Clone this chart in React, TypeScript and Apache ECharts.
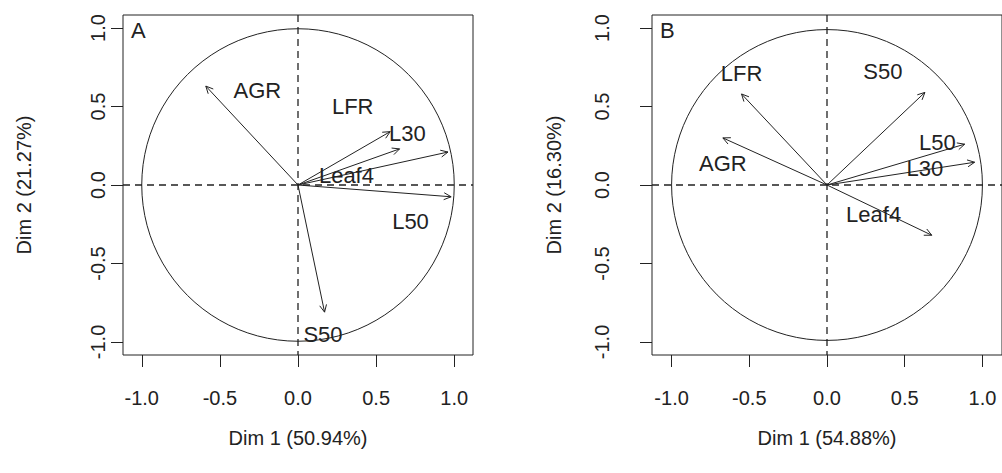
import React, { useEffect, useRef } from 'react';
import * as echarts from 'echarts';

// Panel A (variables factor map)
const varNamesA = ['AGR', 'LFR', 'L30', 'Leaf4', 'L50', 'S50'];
const arrowXA = [-0.59, 0.65, 0.59, 0.96, 0.98, 0.17];
const arrowYA = [0.63, 0.23, 0.34, 0.21, -0.075, -0.81];
const labelXA = [-0.26, 0.35, 0.70, 0.31, 0.72, 0.16];
const labelYA = [0.6, 0.5, 0.33, 0.06, -0.23, -0.955];

// Panel B
const varNamesB = ['AGR', 'LFR', 'S50', 'L50', 'L30', 'Leaf4'];
const arrowXB = [-0.67, -0.55, 0.63, 0.886, 0.95, 0.674];
const arrowYB = [0.3, 0.58, 0.59, 0.26, 0.145, -0.32];
const labelXB = [-0.67, -0.55, 0.36, 0.71, 0.63, 0.3];
const labelYB = [0.14, 0.71, 0.72, 0.27, 0.106, -0.19];

const tickValues = [-1, -0.5, 0, 0.5, 1];
const panelLetters = ['A', 'B'];
const xTitles = ['Dim 1 (50.94%)', 'Dim 1 (54.88%)'];
const yTitles = ['Dim 2 (21.27%)', 'Dim 2 (16.30%)'];
const circleRadius = [1];

const FONT = 'Liberation Sans, Arial, sans-serif';
const INK = '#222';

function buildOption() {
  const grids = [
    { left: 123, top: 15, width: 350, height: 340 },
    { left: 652, top: 15, width: 352, height: 340 },
  ];
  const xr = [1.12, 1.126];
  const yr = 1.083;

  const xAxis: any[] = [];
  const yAxis: any[] = [];
  const series: any[] = [];

  const panels = [
    { names: varNamesA, ax: arrowXA, ay: arrowYA, lx: labelXA, ly: labelYA },
    { names: varNamesB, ax: arrowXB, ay: arrowYB, lx: labelXB, ly: labelYB },
  ];

  panels.forEach((p, i) => {
    xAxis.push({
      type: 'value',
      gridIndex: i,
      min: -xr[i],
      max: xr[i],
      name: xTitles[i],
      nameLocation: 'middle',
      nameGap: 73,
      nameTextStyle: { fontFamily: FONT, fontSize: 20, color: INK },
      axisLine: { show: false, onZero: false },
      splitLine: { show: false },
      axisTick: {
        show: true,
        customValues: tickValues,
        length: 12,
        lineStyle: { color: INK, width: 1 },
      },
      axisLabel: {
        customValues: tickValues,
        margin: 33,
        fontFamily: FONT,
        fontSize: 20,
        color: INK,
        formatter: (v: number) => v.toFixed(1),
      },
    });
    yAxis.push({
      type: 'value',
      gridIndex: i,
      min: -yr,
      max: yr,
      name: yTitles[i],
      nameLocation: 'middle',
      nameGap: i === 0 ? 89 : 88,
      nameTextStyle: { fontFamily: FONT, fontSize: 20, color: INK },
      axisLine: { show: false, onZero: false },
      splitLine: { show: false },
      axisTick: {
        show: true,
        customValues: tickValues,
        length: 12,
        lineStyle: { color: INK, width: 1 },
      },
      axisLabel: {
        customValues: tickValues,
        rotate: 90,
        margin: i === 0 ? 15 : 40,
        fontFamily: FONT,
        fontSize: 20,
        color: INK,
        formatter: (v: number) => v.toFixed(1),
      },
    });

    // unit circle + dashed reference axes
    series.push({
      type: 'custom',
      xAxisIndex: i,
      yAxisIndex: i,
      silent: true,
      data: circleRadius.map((r) => [0, 0, r]),
      renderItem: (params: any, api: any) => {
        const c = api.coord([api.value(0), api.value(1)]);
        const r = api.size([api.value(2), api.value(2)])[0];
        const cs = params.coordSys;
        return {
          type: 'group',
          children: [
            {
              type: 'circle',
              shape: { cx: c[0], cy: c[1], r },
              style: { fill: 'none', stroke: INK, lineWidth: 1 },
            },
            {
              type: 'line',
              shape: { x1: c[0], y1: cs.y, x2: c[0], y2: cs.y + cs.height },
              style: { stroke: INK, lineWidth: 1.3, lineDash: [7, 5] },
            },
            {
              type: 'line',
              shape: { x1: cs.x, y1: c[1], x2: cs.x + cs.width, y2: c[1] },
              style: { stroke: INK, lineWidth: 1.3, lineDash: [7, 5] },
            },
          ],
        };
      },
    });

    // arrows
    series.push({
      type: 'custom',
      xAxisIndex: i,
      yAxisIndex: i,
      silent: true,
      data: p.ax.map((x, k) => [x, p.ay[k]]),
      renderItem: (params: any, api: any) => {
        const o = api.coord([0, 0]);
        const t = api.coord([api.value(0), api.value(1)]);
        const ang = Math.atan2(t[1] - o[1], t[0] - o[0]);
        const L = 8;
        const a = Math.PI / 7;
        const p1 = [t[0] - L * Math.cos(ang - a), t[1] - L * Math.sin(ang - a)];
        const p2 = [t[0] - L * Math.cos(ang + a), t[1] - L * Math.sin(ang + a)];
        return {
          type: 'group',
          children: [
            {
              type: 'line',
              shape: { x1: o[0], y1: o[1], x2: t[0], y2: t[1] },
              style: { stroke: INK, lineWidth: 1 },
            },
            {
              type: 'polyline',
              shape: { points: [p1, t, p2] },
              style: { stroke: INK, fill: 'none', lineWidth: 1 },
            },
          ],
        };
      },
    });

    // variable labels
    series.push({
      type: 'custom',
      xAxisIndex: i,
      yAxisIndex: i,
      silent: true,
      data: p.lx.map((x, k) => [x, p.ly[k]]),
      renderItem: (params: any, api: any) => {
        const c = api.coord([api.value(0), api.value(1)]);
        return {
          type: 'text',
          x: c[0],
          y: c[1],
          style: {
            text: p.names[params.dataIndex],
            fontFamily: FONT,
            fontSize: 22,
            fill: INK,
            align: 'center',
            verticalAlign: 'middle',
          },
        };
      },
    });
  });

  return {
    animation: false,
    backgroundColor: '#fff',
    grid: grids.map((g) => ({ ...g, show: true, borderColor: INK, borderWidth: 1, backgroundColor: 'transparent' })),
    xAxis,
    yAxis,
    graphic: panelLetters.map((t, i) => ({
      type: 'text',
      left: grids[i].left + 8,
      top: grids[i].top + 4,
      style: { text: t, fontFamily: FONT, fontSize: 22, fill: INK },
    })),
    series,
  };
}

export default function App() {
  const ref = useRef<HTMLDivElement>(null);
  useEffect(() => {
    if (!ref.current) return;
    const chart = echarts.init(ref.current, undefined, { renderer: 'svg' });
    chart.setOption(buildOption() as any);
    return () => chart.dispose();
  }, []);
  return (
    <div
      ref={ref}
      style={{ position: 'fixed', left: 0, top: 0, width: 1002, height: 473, background: '#fff' }}
    />
  );
}
